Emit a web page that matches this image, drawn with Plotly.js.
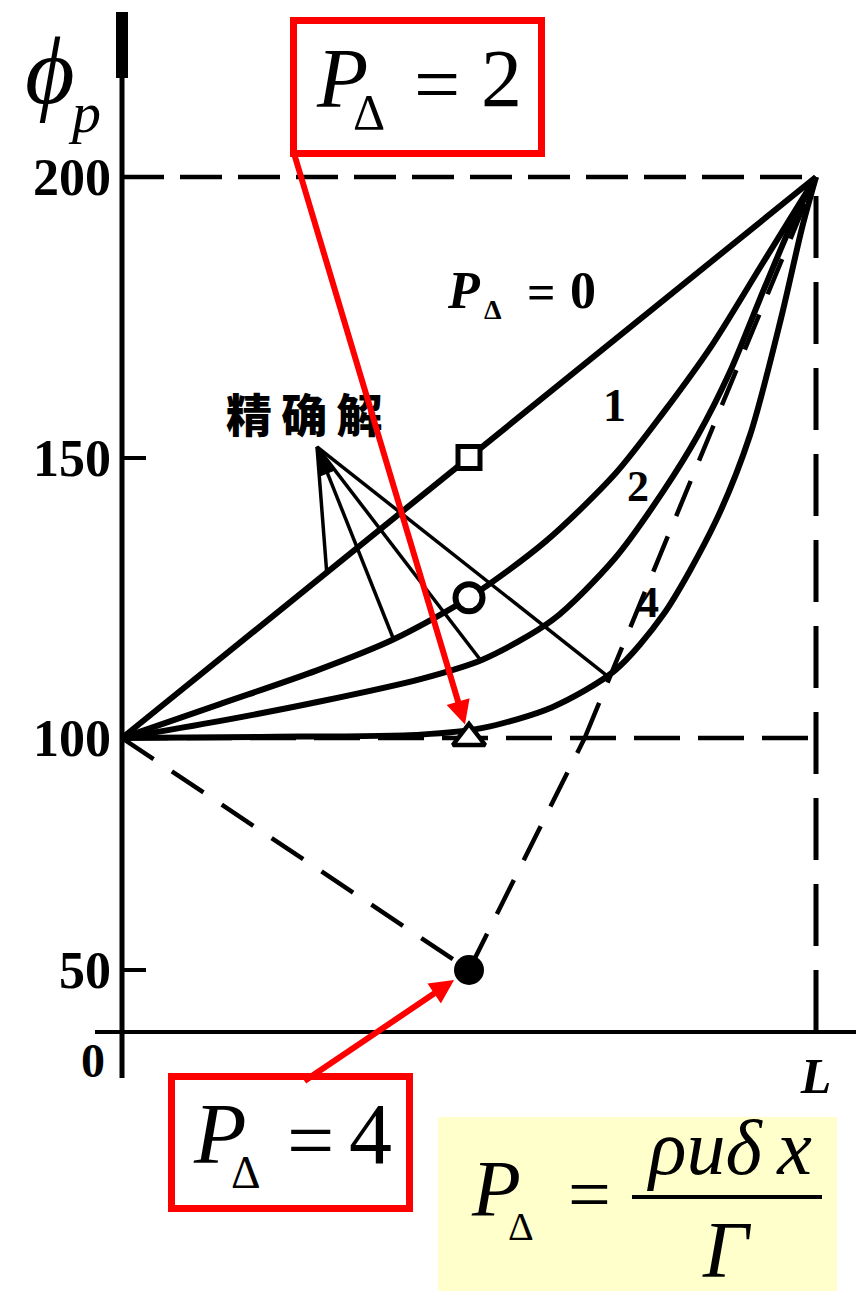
<!DOCTYPE html>
<html>
<head>
<meta charset="utf-8">
<script src="https://cdn.plot.ly/plotly-3.0.1.min.js"></script>
<style>
  html, body { margin: 0; padding: 0; background: #ffffff; }
  #chart { width: 856px; height: 1291px; }
</style>
</head>
<body>
<div id="chart"></div>
<script>
// ---- data: φ along 0..L (x as a fraction of L) ----
// exact solutions
const xLine = [0, 1];
const yLine = [100, 200];                                   // P_Δ = 0
const x1 = [0, 0.14, 0.28, 0.39, 0.5, 0.61, 0.71, 0.78, 0.85, 0.92, 0.97, 1];
const y1 = [100, 106, 112, 117.5, 125, 135, 147, 158, 170, 184, 194, 200];          // P_Δ = 1
const x2 = [0, 0.14, 0.285, 0.43, 0.52, 0.62, 0.71, 0.78, 0.83, 0.875, 0.925, 0.97, 1];
const y2 = [100, 103, 106.5, 110.5, 114, 121, 132, 144, 154, 165, 180, 193, 200];   // P_Δ = 2
const x4 = [0, 0.2, 0.43, 0.52, 0.62, 0.71, 0.78, 0.855, 0.905, 0.95, 0.98, 1];
const y4 = [100, 100.2, 100.6, 101.8, 105.5, 112, 122, 138.5, 154, 175, 191, 200];  // P_Δ = 4

// central-difference value at the middle node for P_Δ = 0, 1, 2, 4
const pecletNums = [0, 1, 2, 4];
const phiMid = [150, 125, 100, 50];
const xMid = 0.5;
// three-node central-difference profile for P_Δ = 4
const xNodes = [0, 0.5, 1];
const phiNodesP4 = [100, 50, 200];

// labels
const yTicksUpper = [100, 150, 200];
const yTicksLower = [50];
const curveLabels = ['1', '2', '4'];

// ---- page geometry ----
const W = 856, H = 1291;
const ML = 122, MR = 0, MT = 10, MB = 259;
const plotW = W - ML - MR, plotH = H - MT - MB;
const pxL = 816;                               // screen x of x = L
const xMax = plotW / (pxL - ML);

// upper panel (φ ≥ 100) and compressed lower panel (φ < 100)
const y100 = 738, y200 = 177, y50 = 970;
const upScale = (y100 - y200) / 100;
const upLow = 97, upHigh = 100 + (y100 - MT) / upScale;
const upDomLow = (H - MB - (y100 + (100 - upLow) * upScale)) / plotH;
const loScale = (y50 - y100) / 50;
const loHigh = 103, loLow = 100 - (H - MB - y100) / loScale;
const loDomHigh = (H - MB - (y100 - (loHigh - 100) * loScale)) / plotH;

const PX = v => (v - ML) / plotW;
const PY = v => (H - MB - v) / plotH;
const paperOfUpper = v => upDomLow + (v - upLow) / (upHigh - upLow) * (1 - upDomLow);

const serif = 'Liberation Serif, Times New Roman, serif';
const BLACK = '#000000', RED = '#ff0000';

// ---- traces ----
const curve = (x, y, shape) => ({
  type: 'scatter', mode: 'lines', x: x, y: y, xaxis: 'x', yaxis: 'y',
  line: {color: BLACK, width: 6, shape: shape, smoothing: 0.8}, hoverinfo: 'skip'
});

// split the P_Δ = 4 profile where it crosses φ = 100 (panel boundary)
const xCross = xNodes[1] + (xNodes[2] - xNodes[1]) * (100 - phiNodesP4[1]) / (phiNodesP4[2] - phiNodesP4[1]);
const dashP4 = {color: BLACK, width: 4.5, dash: '38px,22px'};

const traces = [
  curve(xLine, yLine, 'linear'),
  curve(x1, y1, 'spline'),
  curve(x2, y2, 'spline'),
  curve(x4, y4, 'spline'),
  {type: 'scatter', mode: 'lines', xaxis: 'x', yaxis: 'y2',
   x: [xNodes[0], xNodes[1], xCross], y: [phiNodesP4[0], phiNodesP4[1], 100],
   line: dashP4, hoverinfo: 'skip'},
  {type: 'scatter', mode: 'lines', xaxis: 'x', yaxis: 'y',
   x: [xCross, xNodes[2]], y: [100, phiNodesP4[2]],
   line: dashP4, hoverinfo: 'skip'},
  // middle-node values
  {type: 'scatter', mode: 'markers', xaxis: 'x', yaxis: 'y', cliponaxis: false,
   x: [xMid], y: [phiMid[0]],
   marker: {symbol: 'square', size: 22, color: '#ffffff', line: {color: BLACK, width: 5}}, hoverinfo: 'skip'},
  {type: 'scatter', mode: 'markers', xaxis: 'x', yaxis: 'y', cliponaxis: false,
   x: [xMid], y: [phiMid[1]],
   marker: {symbol: 'circle', size: 27, color: '#ffffff', line: {color: BLACK, width: 6}}, hoverinfo: 'skip'},
  {type: 'scatter', mode: 'markers', xaxis: 'x', yaxis: 'y', cliponaxis: false,
   x: [xMid], y: [phiMid[2]],
   marker: {symbol: 'triangle-up', size: 28, color: '#ffffff', line: {color: BLACK, width: 4.5}}, hoverinfo: 'skip'},
  {type: 'scatter', mode: 'markers', xaxis: 'x', yaxis: 'y2', cliponaxis: false,
   x: [xMid], y: [phiMid[3]],
   marker: {symbol: 'circle', size: 30, color: BLACK, line: {color: BLACK, width: 0}}, hoverinfo: 'skip'}
];

// ---- shapes ----
const shapes = [];
// dashed reference lines φ = 200 and φ = 100, and x = L
shapes.push({type: 'line', layer: 'below', xref: 'x', yref: 'y', x0: 0, x1: 1, y0: 200, y1: 200,
             line: {color: BLACK, width: 4.5, dash: '42px,16px'}});
shapes.push({type: 'line', layer: 'below', xref: 'x', yref: 'y', x0: 0, x1: 1, y0: 100, y1: 100,
             line: {color: BLACK, width: 4.5, dash: '46px,18px'}});
shapes.push({type: 'line', layer: 'below', xref: 'x', yref: 'paper', x0: 1, x1: 1, y0: 0, y1: paperOfUpper(200),
             line: {color: BLACK, width: 5, dash: '62px,24px'}});
// axes
shapes.push({type: 'line', layer: 'above', xref: 'paper', yref: 'paper', x0: 0, x1: 0, y0: PY(1078), y1: PY(12),
             line: {color: BLACK, width: 5}});
shapes.push({type: 'line', layer: 'above', xref: 'paper', yref: 'paper', x0: 0, x1: 0, y0: PY(78), y1: PY(12),
             line: {color: BLACK, width: 12}});
shapes.push({type: 'line', layer: 'above', xref: 'paper', yref: 'paper', x0: PX(95), x1: PX(856), y0: 0, y1: 0,
             line: {color: BLACK, width: 4}});
// leader lines from the "精确解" label to each exact solution
const apex = [0.281, 151.9];
const leaderEnds = [[0.295, 129.5], [0.39, 118], [0.516, 114], [0.70, 111]];
leaderEnds.forEach(e => shapes.push({type: 'line', layer: 'above', xref: 'x', yref: 'y',
  x0: apex[0], y0: apex[1], x1: e[0], y1: e[1], line: {color: BLACK, width: 3.5}}));
shapes.push({type: 'path', layer: 'above', xref: 'paper', yref: 'paper',
  path: `M ${PX(317)} ${PY(446)} L ${PX(320)} ${PY(476)} L ${PX(335)} ${PY(470)} Z`,
  fillcolor: BLACK, line: {color: BLACK, width: 1}});
// red call-out boxes and formula panel
const rect = (x0, y0, x1, y1, stroke, fill) => ({type: 'rect', layer: 'above', xref: 'paper', yref: 'paper',
  x0: PX(x0), x1: PX(x1), y0: PY(y1), y1: PY(y0), fillcolor: fill,
  line: {color: stroke, width: stroke === 'rgba(0,0,0,0)' ? 0 : 7}});
shapes.push(rect(293.5, 20.5, 541.5, 153.5, RED, '#ffffff'));
shapes.push(rect(171.5, 1076.5, 409.5, 1208.5, RED, '#ffffff'));
shapes.push(rect(438, 1117, 837, 1291, 'rgba(0,0,0,0)', '#ffffcc'));
shapes.push({type: 'line', layer: 'above', xref: 'paper', yref: 'paper', x0: PX(632), x1: PX(822),
             y0: PY(1197), y1: PY(1197), line: {color: BLACK, width: 4}});

// ---- annotations ----
const T = (text, x, y, size, font) => Object.assign({
  xref: 'paper', yref: 'paper', x: PX(x), y: PY(y), xanchor: 'center', yanchor: 'middle',
  showarrow: false, text: text,
  font: Object.assign({family: serif, size: size, color: BLACK}, font || {})
});
const B = {weight: 'bold'}, I = {style: 'italic'}, BI = {weight: 'bold', style: 'italic'};

const annotations = [
  T('ϕ', 50, 70, 96, I),
  T('p', 84, 112, 58, I),
  T('0', 93, 1060, 48, B),
  // P_Δ = 0 label
  T('P', 464, 291, 52, BI),
  T('Δ', 493, 309, 28, B),
  T('=', 541, 292, 50, B),
  T('0', 583, 291, 52, B),
  // curve numbers
  T(curveLabels[0], 614, 405, 46, B),
  T(curveLabels[1], 638, 486, 44, B),
  T(curveLabels[2], 648, 603, 44, B),
  // label for the exact solutions
  T('精\u2009确\u2009解', 304, 412, 46, {family: 'Noto Sans CJK SC', weight: 900}),
  // P_Δ = 2 box
  T('P', 342, 78, 84, I),
  T('Δ', 369, 112, 50, {}),
  T('=', 437, 84, 82, {}),
  T(String(pecletNums[2]), 501, 78, 82, {}),
  // P_Δ = 4 box
  T('P', 220, 1134, 86, I),
  T('Δ', 246, 1172, 46, {}),
  T('=', 310, 1140, 84, {}),
  T(String(pecletNums[3]), 370, 1134, 86, {}),
  // definition of the cell Peclet number
  T('P', 496, 1189, 80, I),
  T('Δ', 521, 1226, 40, {}),
  T('=', 589, 1194, 76, {}),
  T('ρuδ\u2009x', 729, 1148, 78, I),
  T('Γ', 727, 1250, 80, I),
  // red arrows to the central-difference values
  {xref: 'x', yref: 'y', x: xMid, y: phiMid[2], text: '', showarrow: true,
   ax: -176, ay: -588, arrowhead: 2, arrowsize: 0.8, arrowwidth: 6, arrowcolor: RED, standoff: 14},
  {xref: 'x', yref: 'y2', x: xMid, y: phiMid[3], text: '', showarrow: true,
   ax: -166, ay: 112, arrowhead: 2, arrowsize: 0.8, arrowwidth: 6, arrowcolor: RED, standoff: 18}
];

const tickFont = {family: serif, size: 52, color: BLACK, weight: 'bold'};
const layout = {
  width: W, height: H,
  margin: {l: ML, r: MR, t: MT, b: MB, pad: 0},
  paper_bgcolor: '#ffffff', plot_bgcolor: 'rgba(0,0,0,0)',
  showlegend: false,
  xaxis: {range: [0, xMax], anchor: 'y2', showgrid: false, zeroline: false, showline: false,
          tickvals: [1], ticktext: ['L'], ticks: '', ticklabelstandoff: 10,
          tickfont: {family: serif, size: 50, color: BLACK, weight: 'bold', style: 'italic'}},
  yaxis: {domain: [upDomLow, 1], range: [upLow, upHigh], anchor: 'x', showgrid: false, zeroline: false,
          showline: false, tickvals: yTicksUpper, ticktext: yTicksUpper.map(String),
          ticks: 'inside', ticklen: 24, tickwidth: 4, tickcolor: BLACK, ticklabelstandoff: 10, tickfont: tickFont},
  yaxis2: {domain: [0, loDomHigh], range: [loLow, loHigh], anchor: 'x', showgrid: false, zeroline: false,
           showline: false, tickvals: yTicksLower, ticktext: yTicksLower.map(String),
           ticks: 'inside', ticklen: 24, tickwidth: 4, tickcolor: BLACK, ticklabelstandoff: 10, tickfont: tickFont},
  shapes: shapes,
  annotations: annotations
};

Plotly.newPlot('chart', traces, layout, {staticPlot: true, displayModeBar: false});
</script>
</body>
</html>
